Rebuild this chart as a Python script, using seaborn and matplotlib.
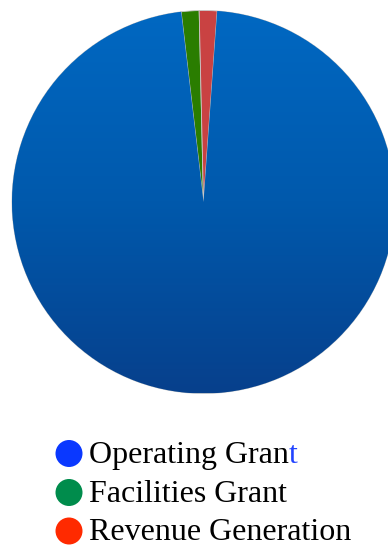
import numpy as np
import matplotlib
matplotlib.use("Agg")
import matplotlib.pyplot as plt
import seaborn as sns
from matplotlib.colors import LinearSegmentedColormap

categories = ["Operating Grant", "Facilities Grant", "Revenue Generation"]
values = [97.0, 1.5, 1.5]
pie_colors = ["#0060B6", "#2A7D00", "#C94242"]
legend_colors = ["#0A38FF", "#008C4C", "#FF2A00"]

sns.set_theme(style="white")
plt.rcParams["font.family"] = ["Liberation Serif", "DejaVu Serif"]

W, H = 388, 546
fig = plt.figure(figsize=(W / 100, H / 100), dpi=100)
fig.patch.set_facecolor("white")

cx, cy, r = 203.5, 202.0, 191.5
ax = fig.add_axes([(cx - r) / W, (H - cy - r) / H, 2 * r / W, 2 * r / H])
wedges, _ = ax.pie(values, colors=pie_colors, startangle=85.9, counterclock=False,
                   radius=1.0, wedgeprops=dict(linewidth=0.6, edgecolor="#c8c8c8"))
ax.set_axis_off()

# vertical gradient on the large wedge
cmap = LinearSegmentedColormap.from_list("g", ["#07408C", "#0059AC", "#0068C2"])
grad = np.linspace(0, 1, 256).reshape(-1, 1)
im = ax.imshow(grad, extent=[-1, 1, -1, 1], origin="lower", cmap=cmap,
               aspect="auto", zorder=wedges[0].get_zorder() + 0.1)
im.set_clip_path(wedges[0])
ax.set_xlim(-1, 1)
ax.set_ylim(-1, 1)

# legend
fs = 23
x_text = 89
x_dot = 69
baselines = [463, 502, 540.5]
for i, (lab, col) in enumerate(zip(categories, legend_colors)):
    yb = baselines[i]
    fig.patches.append(matplotlib.patches.Ellipse(
        (x_dot / W, 1 - (yb - 9.5) / H), 27 / W, 27 / H,
        transform=fig.transFigure, facecolor=col, edgecolor="none"))
    if i == 0:
        t = fig.text(x_text / W, 1 - yb / H, lab[:-1], fontsize=fs, color="black",
                     va="baseline", ha="left")
        fig.canvas.draw()
        bb = t.get_window_extent()
        fig.text(bb.x1 / W, 1 - yb / H, lab[-1], fontsize=fs, color="#2244FF",
                 va="baseline", ha="left")
    else:
        fig.text(x_text / W, 1 - yb / H, lab, fontsize=fs, color="black",
                 va="baseline", ha="left")

fig.savefig("out.png", dpi=100)
